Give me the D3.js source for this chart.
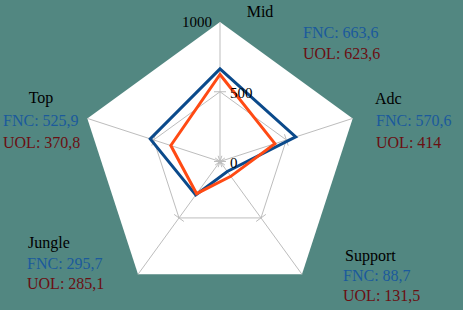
<!DOCTYPE html>
<html>
<head>
<meta charset="utf-8">
<script src="https://cdn.jsdelivr.net/npm/d3@7"></script>
<style>
  html, body { margin: 0; padding: 0; background: #528781; }
  svg { display: block; font-family: "Liberation Serif", "Times New Roman", serif; }
</style>
</head>
<body>
<div class="radar"></div>
<script>
var categories = ["Mid", "Adc", "Support", "Jungle", "Top"];
var seriesNames = ["FNC", "UOL"];
var fncValues = [663.6, 570.6, 88.7, 295.7, 525.9];
var uolValues = [623.6, 414, 131.5, 285.1, 370.8];
var tickValues = [0, 500, 1000];

(function() {
  var w = 463, h = 310,
    cx = 220, cy = 161.5,
    r = 139.5;

  var lineColors = ["#0b4a8b", "#ff4a14"];
  var textColors = ["#1b5a9c", "#6a0f12"];

  // where each label block sits (name baseline, series gap)
  var labelLayout = [
    { nx: 260, ny: 17, anchor: "middle", sx: 303, gap: 21 },
    { nx: 375, ny: 104, anchor: "start", sx: 376, gap: 22 },
    { nx: 345, ny: 261, anchor: "start", sx: 343, gap: 20 },
    { nx: 28, ny: 248, anchor: "start", sx: 27, gap: 20.5 },
    { nx: 41, ny: 103, anchor: "middle", sx: 3, gap: 22.5 }
  ];

  var svg = d3.select(".radar")
    .append("svg")
    .attr("width", w)
    .attr("height", h);

  var rScale = d3.scaleLinear().domain([0, 1000]).range([0, r]);
  var angle = d3.scalePoint().domain(categories).range([0, 2 * Math.PI * 4 / 5]);

  function pt(cat, v) {
    var a = angle(cat);
    return [cx + rScale(v) * Math.sin(a), cy - rScale(v) * Math.cos(a)];
  }

  var g = svg.append("g");

  // outer pentagon
  g.append("polygon")
    .attr("points", categories.map(function(c) { return pt(c, 1000).join(","); }).join(" "))
    .attr("fill", "#ffffff");

  // inner grid at 500
  g.append("polygon")
    .attr("points", categories.map(function(c) { return pt(c, 500).join(","); }).join(" "))
    .attr("fill", "none")
    .attr("stroke", "#bdbdbd")
    .attr("stroke-width", 1);

  // axes
  categories.forEach(function(c) {
    var p = pt(c, 1000);
    g.append("line")
      .attr("x1", cx).attr("y1", cy)
      .attr("x2", p[0]).attr("y2", p[1])
      .attr("stroke", "#bdbdbd")
      .attr("stroke-width", 1);
    var a = angle(c);
    [0, 500].forEach(function(v) {
      var q = pt(c, v);
      var dx = Math.cos(a) * 6, dy = Math.sin(a) * 6;
      g.append("line")
        .attr("x1", q[0] - dx).attr("y1", q[1] - dy)
        .attr("x2", q[0] + dx).attr("y2", q[1] + dy)
        .attr("stroke", "#bdbdbd")
        .attr("stroke-width", 1);
    });
  });

  // series
  var series = [fncValues, uolValues];
  series.forEach(function(vals, i) {
    g.append("polygon")
      .attr("points", categories.map(function(c, j) { return pt(c, vals[j]).join(","); }).join(" "))
      .attr("fill", "none")
      .attr("stroke", lineColors[i])
      .attr("stroke-width", 3)
      .attr("stroke-linejoin", "miter");
  });

  // tick labels on first axis
  g.selectAll("text.tick")
    .data(tickValues)
    .enter()
    .append("text")
    .attr("class", "tick")
    .attr("x", function(d) { return d === 1000 ? cx - 8 : cx + 10; })
    .attr("y", function(d) { return pt(categories[0], d)[1] + (d === 1000 ? 5 : 6); })
    .attr("text-anchor", function(d) { return d === 1000 ? "end" : "start"; })
    .attr("font-size", 15)
    .attr("fill", "#000")
    .text(function(d) { return d; });

  // category labels
  function fmt(v) { return String(v).replace(".", ","); }

  categories.forEach(function(c, j) {
    var L = labelLayout[j];
    svg.append("text")
      .attr("x", L.nx).attr("y", L.ny)
      .attr("text-anchor", L.anchor)
      .attr("font-size", 16)
      .attr("fill", "#000")
      .text(c);
    series.forEach(function(vals, i) {
      svg.append("text")
        .attr("x", L.sx).attr("y", L.ny + L.gap * (i + 1))
        .attr("font-size", 16)
        .attr("fill", textColors[i])
        .text(seriesNames[i] + ": " + fmt(vals[j]));
    });
  });
})();
</script>
</body>
</html>
